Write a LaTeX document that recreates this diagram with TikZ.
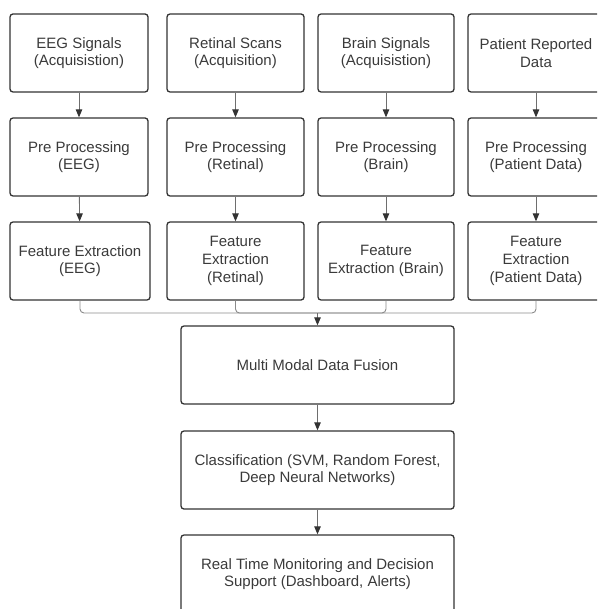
\documentclass[tikz,border=0pt]{standalone}
\usepackage{fontspec}
\setmainfont{Liberation Sans}
\usetikzlibrary{arrows.meta}
\definecolor{boxline}{HTML}{333333}
\definecolor{txt}{HTML}{3A3A3A}
\definecolor{conn}{HTML}{6E6E6E}
\definecolor{mergec}{HTML}{8A8A8A}
\begin{document}
\begin{tikzpicture}[x=1pt,y=-1pt,
  box/.style={draw=boxline, line width=1.3pt, rounded corners=3pt, minimum height=78pt,
    align=center, text=txt, font=\fontsize{15}{17.7}\selectfont, inner sep=0pt},
  arr/.style={draw=conn, line width=0.9pt, -{Triangle[length=8pt,width=6.5pt,color=boxline,fill=boxline]}},
  mergeline/.style={draw=mergec, line width=0.9pt, rounded corners=4pt}
]
\useasboundingbox (0,0) rectangle (597,609);
\clip (0,0) rectangle (597,609);

% row 1
\node[box, minimum width=138pt] (a1) at (79,53) {EEG Signals\\(Acquisistion)};
\node[box, minimum width=137pt] (a2) at (235.5,53) {Retinal Scans\\(Acquisition)};
\node[box, minimum width=136pt] (a3) at (386,53) {Brain Signals\\(Acquisistion)};
\node[box, minimum width=136pt] (a4) at (536,53) {Patient Reported\\Data};
% row 2
\node[box, minimum width=138pt] (b1) at (79,157) {Pre Processing\\(EEG)};
\node[box, minimum width=137pt] (b2) at (235.5,157) {Pre Processing\\(Retinal)};
\node[box, minimum width=136pt] (b3) at (386,157) {Pre Processing\\(Brain)};
\node[box, minimum width=136pt] (b4) at (536,157) {Pre Processing\\(Patient Data)};
% row 3
\node[box, minimum width=140pt] (c1) at (80,261) {Feature Extraction\\(EEG)};
\node[box, minimum width=137pt] (c2) at (235.5,261) {Feature\\Extraction\\(Retinal)};
\node[box, minimum width=136pt] (c3) at (386,261) {Feature\\Extraction (Brain)};
\node[box, minimum width=136pt] (c4) at (536,261) {Feature\\Extraction\\(Patient Data)};

% lower column
\node[box, minimum width=273pt] (f) at (317.5,365) {Multi Modal Data Fusion};
\node[box, minimum width=273pt] (g) at (317.5,470) {Classification (SVM, Random Forest,\\Deep Neural Networks)};
\node[box, minimum width=273pt] (h) at (317.5,574) {Real Time Monitoring and Decision\\Support (Dashboard, Alerts)};

\coordinate (m) at (317.5,313);

\foreach \i in {1,2,3,4} {
  \draw[arr] (a\i) -- (b\i);
  \draw[arr] (b\i) -- (c\i);
  \draw[mergeline] (c\i.south) |- (m);
}
\draw[arr] (m) -- (f);
\draw[arr] (f) -- (g);
\draw[arr] (g) -- (h);
\end{tikzpicture}
\end{document}
